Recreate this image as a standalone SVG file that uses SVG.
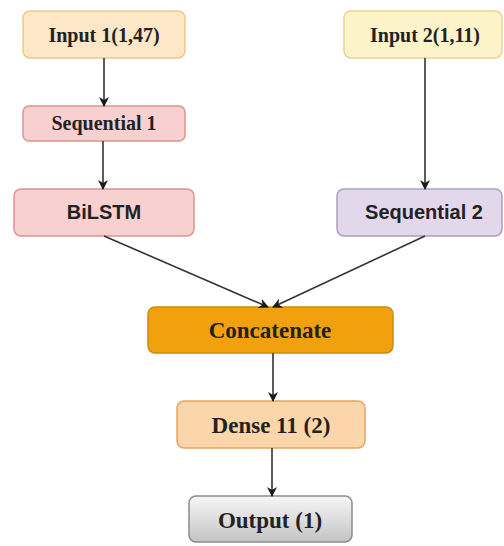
<svg xmlns="http://www.w3.org/2000/svg" width="504" height="546" viewBox="0 0 504 546">
<defs>
<linearGradient id="gOut" x1="0" y1="0" x2="0" y2="1">
<stop offset="0" stop-color="#f7f7f7"/>
<stop offset="1" stop-color="#c4c4c4"/>
</linearGradient>
<marker id="ah" viewBox="0 0 10 10" refX="9" refY="5" markerWidth="10" markerHeight="10" markerUnits="userSpaceOnUse" orient="auto">
<path d="M0,0 L10,5 L0,10 L3,5 Z" fill="#1a1a1a"/>
</marker>
</defs>
<style>
.serif{font-family:"Liberation Serif","Times New Roman",serif;font-weight:bold;fill:#222;text-anchor:middle}
.sans{font-family:"Liberation Sans",Arial,sans-serif;font-weight:bold;fill:#222;text-anchor:middle}
.edge{stroke:#333;stroke-width:1.6;fill:none;marker-end:url(#ah)}
</style>
<rect width="504" height="546" fill="#ffffff"/>
<g id="input1">
<rect x="23" y="11" width="162" height="47" rx="7" fill="#fde7c6" stroke="#ecc98a" stroke-width="1.5"/>
<text class="serif" x="104" y="42" font-size="20">Input 1(1,47)</text>
</g>
<g id="input2">
<rect x="344" y="11" width="158" height="47" rx="7" fill="#fdf3cb" stroke="#e6d48e" stroke-width="1.5"/>
<text class="serif" x="425" y="42" font-size="20">Input 2(1,11)</text>
</g>
<g id="sequential1">
<rect x="23" y="106" width="162" height="35" rx="6" fill="#f9d0d0" stroke="#dc9393" stroke-width="1.5"/>
<text class="serif" x="104" y="130" font-size="20">Sequential 1</text>
</g>
<g id="bilstm">
<rect x="14" y="189" width="180" height="47" rx="7" fill="#f9d0d0" stroke="#dc9393" stroke-width="1.5"/>
<text class="sans" x="104" y="219" font-size="20">BiLSTM</text>
</g>
<g id="sequential2">
<rect x="337" y="189" width="165" height="47" rx="7" fill="#e3d7ec" stroke="#ad9dc0" stroke-width="1.5"/>
<text class="sans" x="424" y="219" font-size="20">Sequential 2</text>
</g>
<g id="concatenate">
<rect x="148" y="307" width="245" height="46" rx="7" fill="#f1a10e" stroke="#cc8a12" stroke-width="1.5"/>
<text class="serif" x="270" y="338" font-size="23">Concatenate</text>
</g>
<g id="dense">
<rect x="177" y="401" width="188" height="47" rx="7" fill="#fbd6ab" stroke="#e4a664" stroke-width="1.5"/>
<text class="serif" x="271" y="433" font-size="23">Dense 11 (2)</text>
</g>
<g id="output">
<rect x="189" y="496" width="163" height="46" rx="7" fill="url(#gOut)" stroke="#8c8c8c" stroke-width="1.5"/>
<text class="serif" x="270" y="528" font-size="23">Output (1)</text>
</g>
<g id="connectors">
<line class="edge" x1="104" y1="58" x2="104" y2="106"/>
<line class="edge" x1="103" y1="141" x2="103" y2="189"/>
<line class="edge" x1="425" y1="58" x2="425" y2="189"/>
<line class="edge" x1="104" y1="236" x2="268" y2="307"/>
<line class="edge" x1="425" y1="236" x2="273" y2="307"/>
<line class="edge" x1="273" y1="353" x2="273" y2="401"/>
<line class="edge" x1="272" y1="448" x2="272" y2="496"/>
</g>
</svg>
